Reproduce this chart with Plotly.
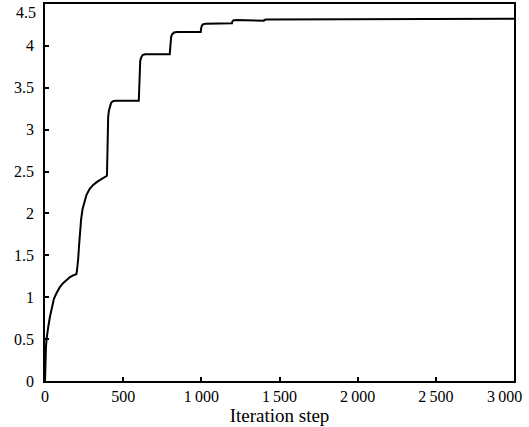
import plotly.graph_objects as go

# Iteration step (x) and objective value (y)
steps = [0, 1, 3, 6, 10, 15, 21, 32, 45, 57, 74, 95, 117, 138, 160, 180, 195, 200,
         204, 208, 212, 218, 223, 231, 240, 252, 265, 285, 308, 335, 361, 385, 396,
         397, 398, 399, 401, 404, 409, 415, 423, 435, 450, 600,
         601, 603, 605, 609, 615, 624, 640, 798,
         800, 803, 807, 814, 825, 845, 996,
         998, 1003, 1012, 1030, 1196,
         1198, 1205, 1220, 1400,
         1403, 1415, 1600, 2000, 2500, 3000]
values = [0, 0.15, 0.28, 0.40, 0.50, 0.58, 0.65, 0.77, 0.90, 0.98, 1.05, 1.12, 1.17, 1.21, 1.24, 1.26, 1.27, 1.275,
          1.31, 1.37, 1.45, 1.62, 1.77, 1.93, 2.05, 2.15, 2.22, 2.29, 2.34, 2.38, 2.41, 2.44, 2.45,
          2.50, 2.70, 2.90, 3.05, 3.15, 3.23, 3.28, 3.32, 3.34, 3.345, 3.345,
          3.45, 3.65, 3.75, 3.82, 3.86, 3.89, 3.90, 3.90,
          3.95, 4.05, 4.11, 4.14, 4.16, 4.165, 4.165,
          4.20, 4.24, 4.26, 4.265, 4.27,
          4.29, 4.305, 4.31, 4.30,
          4.31, 4.316, 4.318, 4.318, 4.321, 4.325]

x_tickvals = [0, 500, 1000, 1500, 2000, 2500, 3000]
x_ticktext = ["0", "500", "1\u2009000", "1\u2009500", "2\u2009000", "2\u2009500", ""]
x_edge_label = "3\u2009000"
y_tickvals = [0, 0.5, 1, 1.5, 2, 2.5, 3, 3.5, 4, 4.5]
y_ticktext = ["0", "0.5", "1", "1.5", "2", "2.5", "3", "3.5", "4", ""]
y_edge_label = "4.5"

fig = go.Figure()
fig.add_trace(go.Scatter(x=steps, y=values, mode="lines",
                         line=dict(color="black", width=2), showlegend=False))

serif = "Liberation Serif, Times New Roman, serif"
font = dict(family=serif, size=16, color="black")
title_font = dict(family=serif, size=19, color="black")
fig.update_layout(
    width=529, height=427,
    margin=dict(l=45, r=15, t=4, b=46, autoexpand=False),
    paper_bgcolor="white", plot_bgcolor="white",
    font=font,
)
fig.update_xaxes(range=[0, 3000], tickvals=x_tickvals, ticktext=x_ticktext,
                 ticks="inside", ticklen=4, tickwidth=1.5, tickcolor="black",
                 showline=True, linecolor="black", linewidth=1.5, mirror=True,
                 showgrid=False, zeroline=False, ticklabeloverflow="allow",
                 automargin=False,
                 title=dict(text="Iteration step", standoff=0, font=title_font),
                 tickfont=font)
fig.update_yaxes(range=[0, 4.5], tickvals=y_tickvals, ticktext=y_ticktext,
                 ticks="inside", ticklen=4, tickwidth=1.5, tickcolor="black",
                 showline=True, linecolor="black", linewidth=1.5, mirror=True,
                 showgrid=False, zeroline=False, ticklabeloverflow="allow",
                 ticklabelstandoff=6,
                 automargin=False, tickfont=font)

# edge tick labels, nudged inward as in the reference
fig.add_annotation(x=x_tickvals[-1], xref="x", y=0, yref="paper",
                   text=x_edge_label, showarrow=False, font=font,
                   xanchor="right", yanchor="top", xshift=10, yshift=-5)
fig.add_annotation(x=0, xref="paper", y=y_tickvals[-1], yref="y",
                   text=y_edge_label, showarrow=False, font=font,
                   xanchor="right", yanchor="top", xshift=-7, yshift=2)

fig.write_html("out.html")
